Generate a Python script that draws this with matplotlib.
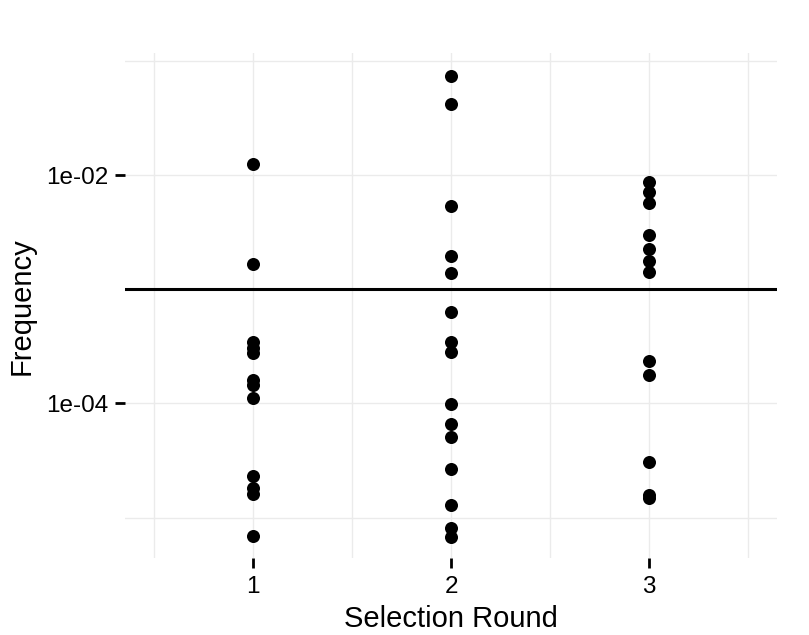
import numpy as np
import matplotlib
matplotlib.use("Agg")
import matplotlib.pyplot as plt

plt.rcParams['font.family'] = ['Liberation Sans', 'DejaVu Sans']

# frequencies per selection round
round1 = [1.26e-2, 1.65e-3, 3.43e-4, 3.08e-4, 2.74e-4, 1.60e-4, 1.45e-4,
          1.12e-4, 2.31e-5, 1.80e-5, 1.61e-5, 6.95e-6]
round2 = [7.36e-2, 4.19e-2, 5.38e-3, 1.96e-3, 1.40e-3, 6.35e-4, 3.45e-4,
          2.80e-4, 9.9e-5, 6.64e-5, 5.08e-5, 2.68e-5, 1.29e-5, 8.05e-6, 6.81e-6]
round3 = [8.69e-3, 7.05e-3, 5.73e-3, 3.00e-3, 2.25e-3, 1.78e-3, 1.42e-3,
          2.35e-4, 1.78e-4, 3.08e-5, 1.58e-5, 1.48e-5]
rounds = [1, 2, 3]
threshold = 1e-3

ytick_vals = [1e-2, 1e-4]
ytick_labels = ["1e-02", "1e-04"]

fig = plt.figure(figsize=(8.09, 6.35), dpi=100)
ax = fig.add_axes([0.154, 0.1213, 0.8064, 0.7947])

for r, vals in zip(rounds, [round1, round2, round3]):
    ax.scatter(np.full(len(vals), r), vals, s=88, color="black", zorder=3,
               linewidths=0)

ax.axhline(threshold, color="black", lw=2.2, zorder=4)

ax.set_yscale("log")
ax.set_ylim(10 ** -5.354, 10 ** -0.934)
ax.set_xlim(0.3515, 3.646)

# grid (major + minor, all the same light grey)
for y in [1e-1, 1e-2, 1e-3, 1e-4, 1e-5]:
    ax.axhline(y, color="#ebebeb", lw=1.0, zorder=0)
for x in [0.5, 1, 1.5, 2, 2.5, 3, 3.5]:
    ax.axvline(x, color="#ebebeb", lw=1.0, zorder=0)

ax.set_yticks(ytick_vals)
ax.set_yticklabels(ytick_labels)
ax.yaxis.set_minor_locator(matplotlib.ticker.NullLocator())
ax.set_xticks(rounds)
ax.set_xticklabels([str(r) for r in rounds])

ax.tick_params(axis="both", length=7, width=2, color="black", labelsize=17.5,
               labelcolor="black", pad=5)
ax.tick_params(axis="x", pad=6)

for s in ax.spines.values():
    s.set_visible(False)

ax.set_xlabel("Selection Round", fontsize=21, labelpad=5)
ax.set_ylabel("Frequency", fontsize=21, labelpad=7)

fig.savefig("out.png", dpi=100)
